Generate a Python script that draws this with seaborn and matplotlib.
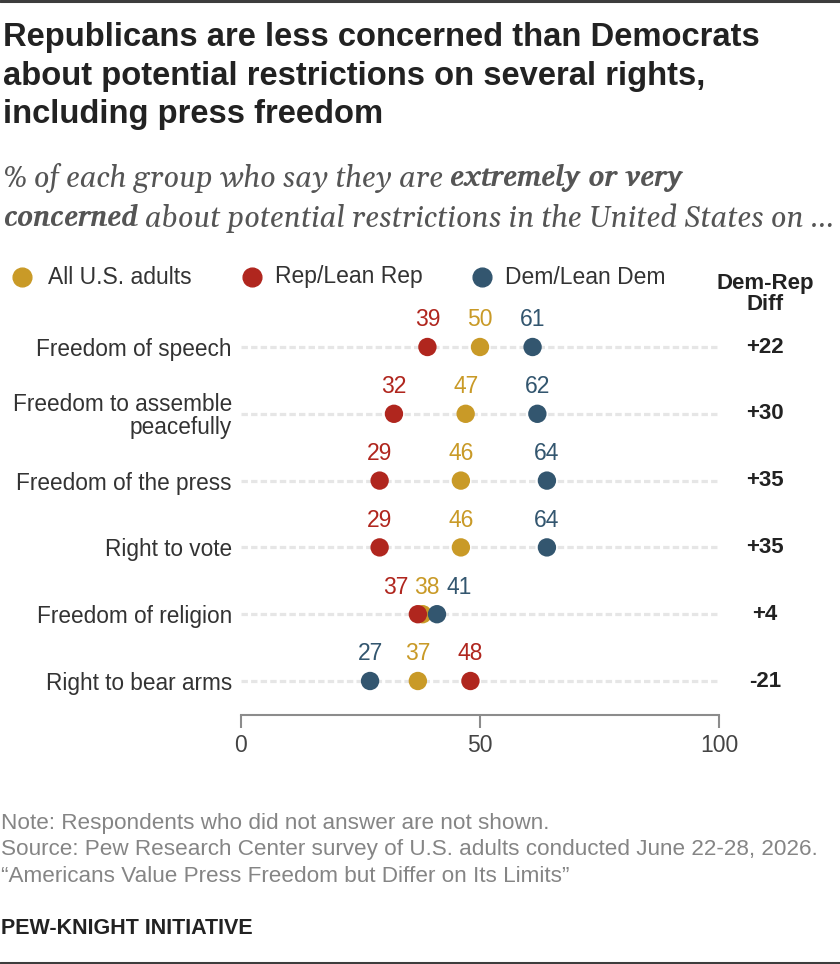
import numpy as np
import pandas as pd
import matplotlib
matplotlib.use("Agg")
import matplotlib.pyplot as plt
import seaborn as sns
from matplotlib.lines import Line2D
import matplotlib.transforms as mtransforms

# data
rights = [
    "Freedom of speech",
    "Freedom to assemble\npeacefully",
    "Freedom of the press",
    "Right to vote",
    "Freedom of religion",
    "Right to bear arms",
]
all_adults = [50, 47, 46, 46, 38, 37]
rep_lean = [39, 32, 29, 29, 37, 48]
dem_lean = [61, 62, 64, 64, 41, 27]
diff_labels = ["+22", "+30", "+35", "+35", "+4", "-21"]
groups = ["All U.S. adults", "Rep/Lean Rep", "Dem/Lean Dem"]
x_ticks = [0, 50, 100]
title_lines = [
    "Republicans are less concerned than Democrats",
    "about potential restrictions on several rights,",
    "including press freedom",
]
notes = [
    "Note: Respondents who did not answer are not shown.",
    "Source: Pew Research Center survey of U.S. adults conducted June 22-28, 2026.",
    "\u201cAmericans Value Press Freedom but Differ on Its Limits\u201d",
]

GOLD = "#C99A27"
RED = "#B0261E"
BLUE = "#33566F"
palette = {groups[0]: GOLD, groups[1]: RED, groups[2]: BLUE}

sns.set_theme(style="white")
SANS = ["Liberation Sans", "DejaVu Sans"]
SERIF = ["Gelasio", "DejaVu Serif"]
SERIF_B = ["Charis SIL", "DejaVu Serif"]
plt.rcParams["font.family"] = SANS

W, H = 840, 964
fig = plt.figure(figsize=(W / 100, H / 100), dpi=100)


def fx(px):
    return px / W


def fy(py):
    return 1 - py / H


# long table for seaborn
rows = []
for i, r in enumerate(rights):
    for g, vals in zip(groups, [all_adults, rep_lean, dem_lean]):
        rows.append({"right": i, "group": g, "value": vals[i]})
df = pd.DataFrame(rows)

# axes area in pixels
left, right_px = 241, 719
row0, step = 347, 66.8
bottom_px, top_px = 715, 310
ax = fig.add_axes([fx(left), fy(bottom_px), (right_px - left) / W, (bottom_px - top_px) / H])
ax.set_xlim(0, 100)
ax.set_ylim((bottom_px - row0) / step, (top_px - row0) / step)

for i in range(len(rights)):
    ax.plot([0, 100], [i, i], color="#e6e6e6", lw=2.3, linestyle=(0, (2, 1)),
            dash_capstyle="butt", zorder=1)

sns.scatterplot(data=df, x="value", y="right", hue="group", palette=palette,
                s=175, linewidth=0, legend=False, ax=ax, zorder=3, clip_on=False)

# value labels above the dots; crowded religion row nudged apart (pixels)
nudge = {(4, groups[1]): -22, (4, groups[0]): 4, (4, groups[2]): 22}
for g, vals in zip(groups, [all_adults, rep_lean, dem_lean]):
    for i, v in enumerate(vals):
        dx = nudge.get((i, g), 0) * 0.72
        ax.annotate(str(v), (v, i), xytext=(dx, 19.5), textcoords="offset points",
                    ha="center", va="center", fontsize=16.5, color=palette[g])

# diff column
blend = mtransforms.blended_transform_factory(fig.transFigure, ax.transData)
for i, d in enumerate(diff_labels):
    ax.text(fx(765), i, d, transform=blend, ha="center", va="center",
            fontsize=16, fontweight="bold", color="#222222")
fig.text(fx(765), fy(294), "Dem-Rep\nDiff", ha="center", va="center",
         fontsize=16, fontweight="bold", color="#222222", linespacing=1.05)

# axes styling
ax.set_yticks(range(len(rights)))
ax.set_yticklabels(rights, fontsize=16.3, color="#333333")
for lbl in ax.get_yticklabels():
    lbl.set_multialignment("right")
    lbl.set_linespacing(1.0)
ax.tick_params(axis="y", length=0, pad=6.5)
ax.set_xticks(x_ticks)
ax.set_xticklabels([str(t) for t in x_ticks], fontsize=16.5, color="#444444")
ax.tick_params(axis="x", bottom=True, length=9, width=1.5, color="#8c8c8c", pad=5,
               direction="out")
for s in ["top", "left", "right"]:
    ax.spines[s].set_visible(False)
ax.spines["bottom"].set_color("#8c8c8c")
ax.spines["bottom"].set_linewidth(1.5)
ax.set_xlabel("")
ax.set_ylabel("")
ax.set_facecolor("none")

# legend
legend_items = [(22, 48, groups[0]), (252, 275, groups[1]), (482, 505, groups[2])]
for cx, tx, g in legend_items:
    fig.add_artist(Line2D([fx(cx)], [fy(277)], marker="o", markersize=13.5,
                          color=palette[g], linestyle="none", transform=fig.transFigure))
    fig.text(fx(tx), fy(277), g, ha="left", va="center", fontsize=16.5, color="#333333")

# title
for k, line in enumerate(title_lines):
    fig.text(fx(3), fy(46 + 38.5 * k), line, ha="left", va="baseline", fontsize=23.6,
             fontweight="bold", color="#222222")

# subtitle with bold italic run
sub_kw = dict(ha="left", va="center", fontsize=21, style="italic", color="#555555")
t1 = fig.text(fx(3), fy(178), "% of each group who say they are ", family=SERIF, **sub_kw)
fig.canvas.draw()
r = fig.canvas.get_renderer()
bb = t1.get_window_extent(r)
fig.text(bb.x1 / W, fy(178), "extremely or very", fontweight="bold", family=SERIF_B, **sub_kw)
t2 = fig.text(fx(3), fy(218), "concerned", fontweight="bold", family=SERIF_B, **sub_kw)
bb2 = t2.get_window_extent(r)
fig.text(bb2.x1 / W, fy(218), " about potential restrictions in the United States on ...",
         family=SERIF, **sub_kw)

# notes
for k, n in enumerate(notes):
    fig.text(fx(1), fy(823 + 27 * k), n, ha="left", va="center", fontsize=16.2,
             color="#858585")
fig.text(fx(1), fy(929), "PEW-KNIGHT INITIATIVE", ha="left", va="center",
         fontsize=15.5, fontweight="bold", color="#222222")

# frame lines top and bottom
fig.add_artist(Line2D([0, 1], [fy(1), fy(1)], color="#3d3d3d", lw=2.2, transform=fig.transFigure))
fig.add_artist(Line2D([0, 1], [fy(963), fy(963)], color="#3d3d3d", lw=2.2, transform=fig.transFigure))

fig.savefig("out.png", dpi=100)
